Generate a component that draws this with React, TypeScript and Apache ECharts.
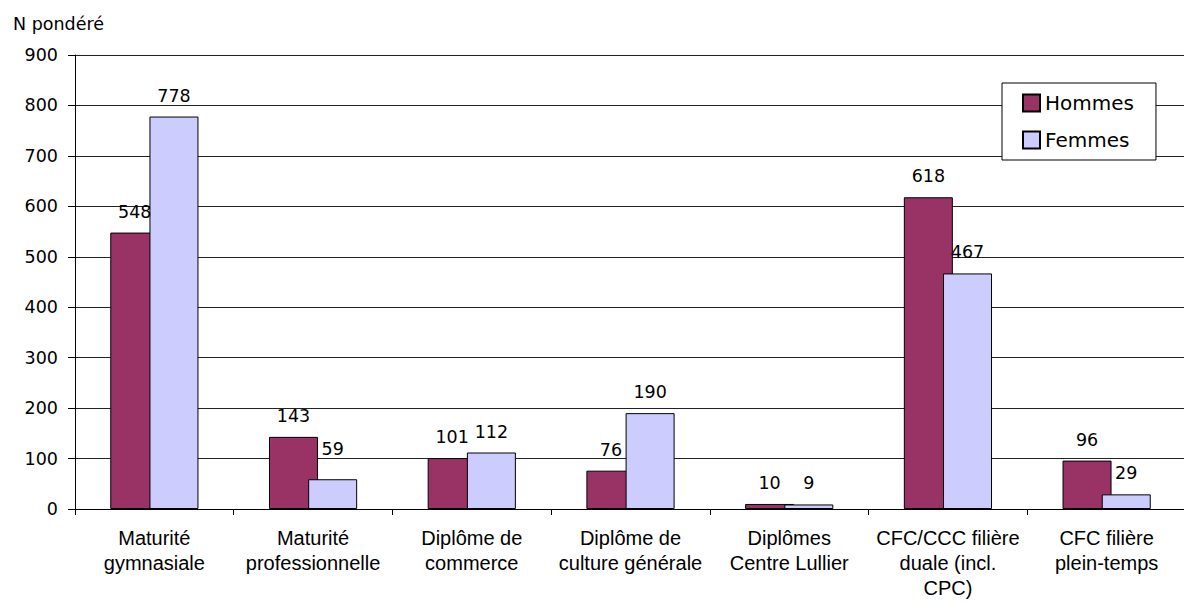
import React, { useEffect, useRef } from "react";
import * as echarts from "echarts";

const categories = [
  "Maturité\ngymnasiale",
  "Maturité\nprofessionnelle",
  "Diplôme de\ncommerce",
  "Diplôme de\nculture générale",
  "Diplômes\nCentre Lullier",
  "CFC/CCC filière\nduale (incl.\nCPC)",
  "CFC filière\nplein-temps",
];
const hommes = [548, 143, 101, 76, 10, 618, 96];
const femmes = [778, 59, 112, 190, 9, 467, 29];
const yTitle = "N pondéré";

const FONT = "'Liberation Sans', Arial, sans-serif";
const NFONT = "'DejaVu Sans', sans-serif";

export default function App() {
  const ref = useRef<HTMLDivElement>(null);
  useEffect(() => {
    if (!ref.current) return;
    const chart = echarts.init(ref.current, null, { renderer: "svg" });
    const labelCfg = {
      show: true,
      position: "top",
      distance: 12,
      fontSize: 17.5,
      fontFamily: NFONT,
      color: "#000",
    };
    // the label of the small Femmes bar next to a taller Hommes bar is lifted in the original
    const femmesData = femmes.map((v, i) =>
      i === 1
        ? { value: v, label: { ...labelCfg, distance: 21 } }
        : v
    );
    chart.setOption({
      animation: false,
      backgroundColor: "#fff",
      textStyle: { fontFamily: FONT },
      graphic: [
        {
          type: "text",
          left: 13,
          top: 15,
          style: { text: yTitle, fontSize: 17.5, fontFamily: NFONT, fill: "#000" },
        },
      ],
      legend: {
        orient: "vertical",
        left: 1002,
        top: 83,
        padding: [10, 22, 10, 20],
        itemWidth: 17,
        itemHeight: 17,
        itemGap: 17,
        itemTextGap: 9,
        borderColor: "#000",
        borderWidth: 1,
        backgroundColor: "#fff",
        textStyle: { fontSize: 20, fontFamily: NFONT, color: "#000", lineHeight: 20 },
        data: [
          { name: "Hommes", icon: "rect" },
          { name: "Femmes", icon: "rect" },
        ],
      },
      grid: {
        left: 75,
        right: -2,
        top: 55,
        bottom: 92,
        containLabel: false,
        outerBoundsMode: "none",
      },
      xAxis: {
        type: "category",
        data: categories,
        axisLine: { show: true, lineStyle: { color: "#000", width: 1 } },
        axisTick: { show: true, length: 6, interval: 0, lineStyle: { color: "#000" } },
        axisLabel: {
          interval: 0,
          fontSize: 20,
          lineHeight: 25,
          margin: 16,
          color: "#000",
          fontFamily: FONT,
        },
      },
      yAxis: {
        type: "value",
        min: 0,
        max: 900,
        interval: 100,
        axisLine: { show: true, lineStyle: { color: "#000", width: 1 } },
        axisTick: { show: true, length: 7, lineStyle: { color: "#000" } },
        axisLabel: { fontSize: 17.5, margin: 17, color: "#000", fontFamily: NFONT },
        splitLine: { show: true, lineStyle: { color: "#222", width: 1 } },
      },
      series: [
        {
          name: "Hommes",
          type: "bar",
          data: hommes,
          barWidth: 49,
          barGap: "-20%",
          itemStyle: { color: "#993366", borderColor: "#000", borderWidth: 1 },
          label: labelCfg,
        },
        {
          name: "Femmes",
          type: "bar",
          data: femmesData,
          barWidth: 49,
          barGap: "-20%",
          itemStyle: { color: "#CCCCFF", borderColor: "#000", borderWidth: 1 },
          label: labelCfg,
        },
      ],
    });
    return () => chart.dispose();
  }, []);
  return (
    <div
      ref={ref}
      style={{ position: "fixed", left: 0, top: 0, width: 1184, height: 601 }}
    />
  );
}
